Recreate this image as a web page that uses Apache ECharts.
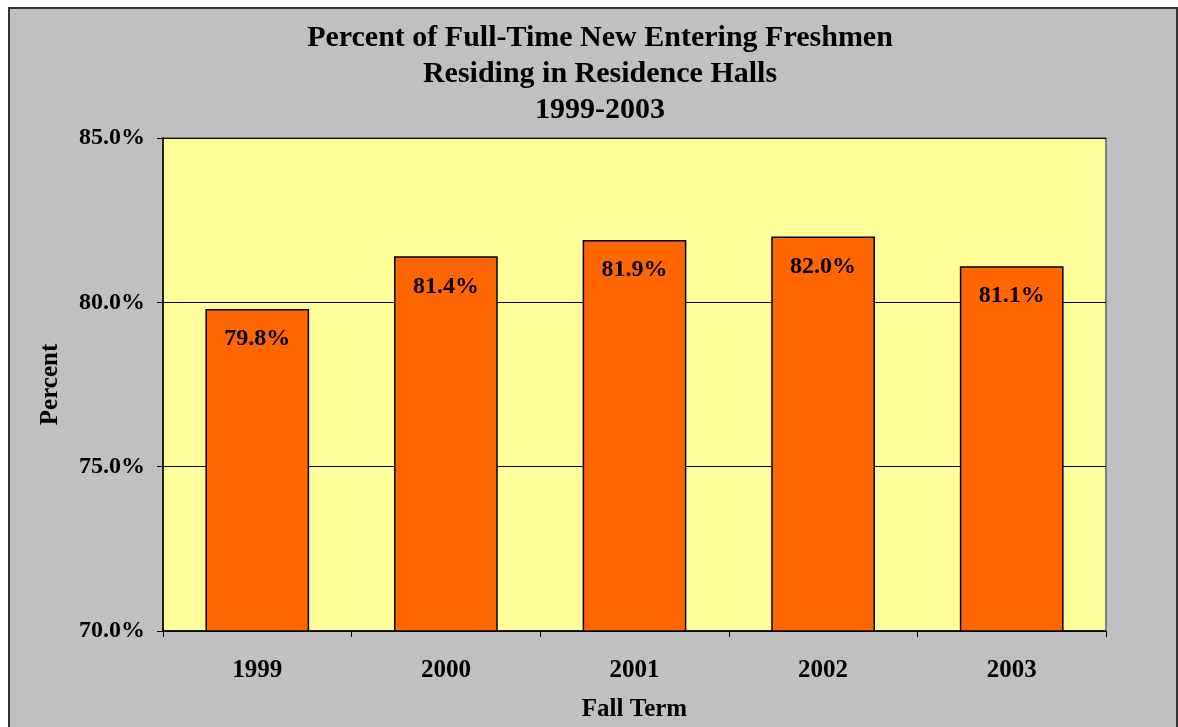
<!DOCTYPE html>
<html>
<head>
<meta charset="utf-8">
<script src="https://cdn.jsdelivr.net/npm/echarts@6/dist/echarts.min.js"></script>
<style>
	html,body{margin:0;padding:0;background:#ffffff;}
	#frame{position:absolute;left:8px;top:7px;width:1170px;height:720px;background:#c0c0c0;border-left:2px solid #333333;border-top:2px solid #333333;border-right:2px solid #333333;box-sizing:border-box;}
	#chartBox{position:absolute;left:0;top:0;width:1178px;height:727px;}
</style>
</head>
<body>
<div id="frame"></div>
<div id="chartBox"></div>
<script>
var years = ['1999', '2000', '2001', '2002', '2003'];
var percents = [79.8, 81.4, 81.9, 82.0, 81.1];
var yTicks = [70, 75, 80, 85];

var serif = "'Liberation Serif', 'Times New Roman', serif";
var chart = echarts.init(document.getElementById('chartBox'));

var option = {
	backgroundColor: 'transparent',
	animation: false,
	title: {
		text: 'Percent of Full-Time New Entering Freshmen\nResiding in Residence Halls\n1999-2003',
		left: 600,
		textAlign: 'center',
		top: 20,
		padding: 0,
		textStyle: {
			fontFamily: serif,
			fontWeight: 'bold',
			fontSize: 30,
			lineHeight: 36,
			color: '#000000'
		}
	},
	grid: {
		left: 163,
		top: 138,
		width: 943,
		height: 496,
		show: true,
		backgroundColor: '#ffff99',
		borderColor: '#808080',
		borderWidth: 2
	},
	xAxis: {
		type: 'category',
		data: years,
		name: 'Fall Term',
		nameLocation: 'middle',
		nameGap: 66,
		nameTextStyle: {fontFamily: serif, fontWeight: 'bold', fontSize: 25, color: '#000000'},
		axisLine: {lineStyle: {color: '#000000', width: 1.5}},
		axisTick: {show: true, length: 6, lineStyle: {color: '#000000'}},
		axisLabel: {margin: 27, fontFamily: serif, fontWeight: 'bold', fontSize: 25, color: '#000000'}
	},
	yAxis: {
		type: 'value',
		min: yTicks[0],
		max: yTicks[yTicks.length - 1],
		interval: 5,
		name: 'Percent',
		nameLocation: 'middle',
		nameGap: 100,
		nameTextStyle: {fontFamily: serif, fontWeight: 'bold', fontSize: 25, color: '#000000'},
		axisLine: {show: true, lineStyle: {color: '#000000', width: 1.5}},
		axisTick: {show: true, length: 6, lineStyle: {color: '#000000'}},
		axisLabel: {
			margin: 18,
			fontFamily: serif,
			fontWeight: 'bold',
			fontSize: 24,
			color: '#000000',
			formatter: function(v){ return v.toFixed(1) + '%'; }
		},
		splitLine: {show: true, lineStyle: {color: '#000000', width: 1}}
	},
	series: [{
		type: 'bar',
		data: percents,
		barWidth: '55%',
		itemStyle: {color: '#ff6600', borderColor: '#000000', borderWidth: 1.5},
		label: {
			show: true,
			position: 'insideTop',
			distance: 18,
			fontFamily: serif,
			fontWeight: 'bold',
			fontSize: 24,
			color: '#000000',
			formatter: function(p){ return p.value.toFixed(1) + '%'; }
		}
	}]
};
chart.setOption(option);
</script>
</body>
</html>
